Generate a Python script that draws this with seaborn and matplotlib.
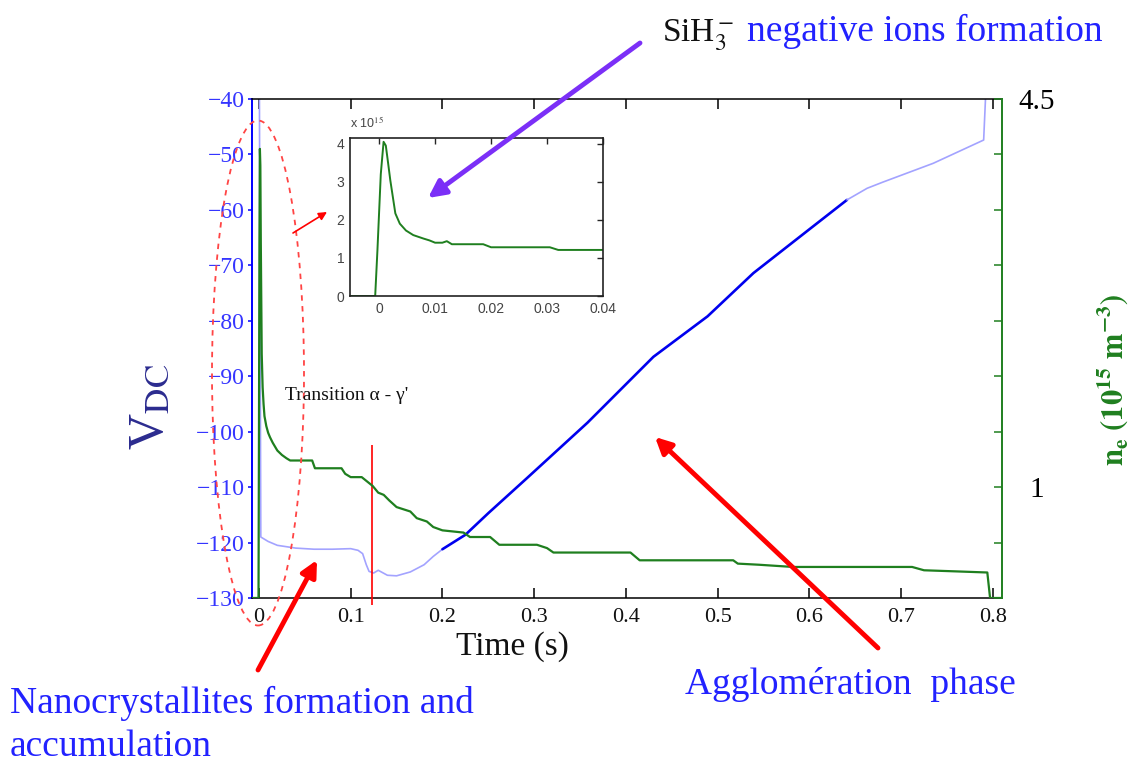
import pandas as pd
import seaborn as sns
import matplotlib.pyplot as plt
from matplotlib.patches import Ellipse, FancyArrowPatch

# ---- data ----
# electron density n_e (1e15 m^-3) vs time (s), main panel
ne_time = [-0.008, -0.0005, 0.0, 0.0005, 0.001, 0.0015, 0.002, 0.003, 0.004, 0.005,
           0.006, 0.008, 0.010, 0.012, 0.015, 0.020, 0.025, 0.030, 0.034, 0.058,
           0.061, 0.090, 0.094, 0.100, 0.112, 0.118, 0.124, 0.130, 0.136, 0.142,
           0.150, 0.165, 0.172, 0.183, 0.190, 0.200, 0.223, 0.230, 0.252, 0.262,
           0.303, 0.314, 0.321, 0.405, 0.415, 0.517, 0.522, 0.545, 0.582, 0.712,
           0.725, 0.760, 0.794, 0.797, 0.810]
ne_value = [0.0, 0.0, 1.5, 3.2, 4.05, 3.9, 3.2, 2.2, 1.9, 1.75,
            1.64, 1.55, 1.49, 1.45, 1.40, 1.33, 1.29, 1.26, 1.24, 1.24,
            1.17, 1.17, 1.12, 1.09, 1.09, 1.05, 1.01, 0.95, 0.93, 0.88,
            0.82, 0.78, 0.72, 0.69, 0.64, 0.61, 0.59, 0.55, 0.55, 0.48,
            0.48, 0.45, 0.41, 0.41, 0.34, 0.34, 0.31, 0.30, 0.28, 0.28,
            0.25, 0.24, 0.23, 0.0, 0.0]

# inset: first 40 ms of n_e
inset_time = [-0.0055, -0.0007, -0.0003, 0.0003, 0.0008, 0.0012, 0.0016, 0.002, 0.0029,
              0.0037, 0.0048, 0.0061, 0.0079, 0.0090, 0.010, 0.0113, 0.0121, 0.013,
              0.0186, 0.020, 0.0305, 0.032, 0.040]
inset_ne = [0.0, 0.0, 1.2, 3.2, 4.05, 3.95, 3.5, 3.04, 2.17,
            1.9, 1.72, 1.6, 1.51, 1.46, 1.40, 1.40, 1.44, 1.36,
            1.36, 1.28, 1.28, 1.21, 1.21]

# V_DC (V) vs time (s): faint start, bold ramp, faint end
vdc_start_time = [0.0005, 0.002, 0.01, 0.02, 0.04, 0.06, 0.08, 0.1, 0.108, 0.113,
                  0.117, 0.12, 0.125, 0.13, 0.14, 0.15, 0.165, 0.18, 0.19, 0.2]
vdc_start = [-40, -119, -119.8, -120.5, -121, -121.2, -121.2, -121.1, -121.4, -122,
             -124, -125.2, -125.5, -125, -125.9, -126, -125.3, -124, -122.5, -121.2]
vdc_mid_time = [0.2, 0.225, 0.25, 0.292, 0.358, 0.43, 0.489, 0.539, 0.6, 0.641]
vdc_mid = [-121.2, -118.6, -114.7, -108.4, -98.4, -86.5, -79.2, -71.4, -63.5, -58.2]
vdc_end_time = [0.641, 0.663, 0.68, 0.735, 0.79, 0.792]
vdc_end = [-58.2, -56.1, -55.0, -51.6, -47.4, -40]

transition_time = 0.123

x_ticks = [0, 0.1, 0.2, 0.3, 0.4, 0.5, 0.6, 0.7, 0.8]
x_tick_labels = ['0', '0.1', '0.2', '0.3', '0.4', '0.5', '0.6', '0.7', '0.8']
vdc_ticks = [-130, -120, -110, -100, -90, -80, -70, -60, -50, -40]
ne_ticks = [0, 0.5, 1, 1.5, 2, 2.5, 3, 3.5, 4, 4.5]
ne_tick_labels = ['', '', '1', '', '', '', '', '', '', '4.5']
inset_x_ticks = [0, 0.01, 0.02, 0.03, 0.04]
inset_x_labels = ['0', '0.01', '0.02', '0.03', '0.04']
inset_y_ticks = [0, 1, 2, 3, 4]

GREEN = '#1f7f1f'
BLUE = '#0000ee'
LIGHT_BLUE = '#a3a3ff'
TEXT_BLUE = '#2222ff'
SERIF = 'Liberation Serif'

sns.set_style('white')
plt.rcParams['font.family'] = [SERIF, 'DejaVu Serif']
plt.rcParams['mathtext.fontset'] = 'stix'

W, H = 1136, 775
fig = plt.figure(figsize=(W / 100, H / 100), dpi=100)


def fx(px):
    return px / W


def fy(py):
    return 1 - py / H


# ---- main axes ----
ax = fig.add_axes([fx(252), fy(598), 750 / W, 499 / H])
ax2 = ax.twinx()

df_start = pd.DataFrame({'t': vdc_start_time, 'v': vdc_start})
df_mid = pd.DataFrame({'t': vdc_mid_time, 'v': vdc_mid})
df_end = pd.DataFrame({'t': vdc_end_time, 'v': vdc_end})
for d, c, w in [(df_start, LIGHT_BLUE, 1.2), (df_mid, BLUE, 1.9), (df_end, LIGHT_BLUE, 1.2)]:
    sns.lineplot(data=d, x='t', y='v', ax=ax, color=c, lw=w,
                 estimator=None, sort=False, legend=False)

df_ne = pd.DataFrame({'t': ne_time, 'ne': ne_value})
sns.lineplot(data=df_ne, x='t', y='ne', ax=ax2, color=GREEN, lw=1.6,
             estimator=None, sort=False, legend=False)

ax.set_xlim(-0.0076, 0.81)
ax.set_ylim(-130, -40)
ax2.set_ylim(0, 4.5)

ax.vlines(transition_time, -102.4, -131.3, color='red', lw=1.2, clip_on=False, zorder=5)

ax.set_xticks(x_ticks, labels=x_tick_labels)
ax.set_yticks(vdc_ticks)
ax2.set_yticks(ne_ticks, labels=ne_tick_labels)

ax.tick_params(axis='x', direction='in', top=True, bottom=True, length=7, width=1.1,
               color='black', labelsize=16, labelcolor='#111111', pad=7)
ax.tick_params(axis='y', direction='out', left=True, length=3, width=1.1,
               color='blue', labelsize=17, labelcolor='#3535ff', pad=2)
ax2.tick_params(axis='y', direction='in', right=True, length=6, width=1.1,
                color=GREEN, labelsize=21, labelcolor='black', pad=25)
for lbl in ax2.get_yticklabels():
    lbl.set_horizontalalignment('center')

for s in ['top', 'bottom']:
    ax.spines[s].set_color('black')
    ax.spines[s].set_linewidth(1.1)
ax.spines['left'].set_color('blue')
ax.spines['left'].set_linewidth(1.4)
ax.spines['right'].set_visible(False)
for s in ['top', 'bottom', 'left']:
    ax2.spines[s].set_visible(False)
ax2.spines['right'].set_color(GREEN)
ax2.spines['right'].set_linewidth(1.4)

ax.set_ylabel('')
ax2.set_ylabel('')
ax.set_xlabel('Time (s)', fontsize=24, color='#111111')
ax.xaxis.set_label_coords((512 - 252) / 750, -(631 - 598) / 499)

# ---- inset ----
axi = fig.add_axes([fx(350), fy(296), 253 / W, 158 / H])
df_in = pd.DataFrame({'t': inset_time, 'ne': inset_ne})
sns.lineplot(data=df_in, x='t', y='ne', ax=axi, color=GREEN, lw=1.4,
             estimator=None, sort=False, legend=False)
axi.set_xlim(-0.0052, 0.04)
axi.set_ylim(0, 4.15)
axi.set_xticks(inset_x_ticks, labels=inset_x_labels)
axi.set_yticks(inset_y_ticks)
axi.tick_params(direction='in', top=True, right=True, length=4, width=1,
                labelsize=10, labelcolor='#444444', pad=4)
for lbl in axi.get_xticklabels() + axi.get_yticklabels():
    lbl.set_family('Liberation Sans')
for s in axi.spines.values():
    s.set_color('#222222')
    s.set_linewidth(1.2)
axi.set_xlabel('')
axi.set_ylabel('')
fig.text(fx(350), fy(123), r'x 10$^{15}$', fontsize=9, color='#444444',
         family='Liberation Sans', ha='left', va='center')

# ---- axis titles ----
fig.text(fx(150), fy(407), r'V$_{\mathrm{DC}}$', fontsize=36, color='#2b2b8f',
         rotation=90, ha='center', va='center')
fig.text(fx(1113), fy(380), r'$\mathbf{n_e\ (10^{15}\ m^{-3})}$', fontsize=22,
         color=GREEN, rotation=90, ha='center', va='center')

# ---- annotations ----
fig.text(fx(285), fy(395), "Transition α - γ'", fontsize=14, color='#111111',
         ha='left', va='center')
fig.text(fx(662), fy(41), r'SiH$_3^-$', fontsize=24, color='#111111',
         ha='left', va='baseline')
fig.text(fx(747), fy(41), 'negative ions formation', fontsize=27, color=TEXT_BLUE,
         ha='left', va='baseline')
fig.text(fx(10), fy(686), 'Nanocrystallites formation and\naccumulation', fontsize=27,
         color=TEXT_BLUE, ha='left', va='top', linespacing=1.3)
fig.text(fx(685), fy(684), 'Agglomération  phase', fontsize=27, color=TEXT_BLUE,
         ha='left', va='center')

fig.add_artist(Ellipse((fx(258), fy(373)), 92 / W, 505 / H, transform=fig.transFigure,
                       fill=False, ec='#ff4444', lw=1.3, ls=(0, (3, 3))))

arrows = [((640, 43), (428, 198), '#7b2ff7', 3.5, 26),
          ((293, 233), (327, 212), 'red', 1.2, 12),
          ((258, 670), (317, 560), 'red', 3.5, 24),
          ((878, 648), (655, 437), 'red', 3.5, 24)]
for (x0, y0), (x1, y1), c, w, ms in arrows:
    fig.add_artist(FancyArrowPatch((fx(x0), fy(y0)), (fx(x1), fy(y1)),
                                   transform=fig.transFigure, arrowstyle='-|>',
                                   color=c, lw=w, mutation_scale=ms,
                                   shrinkA=0, shrinkB=0))

fig.savefig('out.png', dpi=100)
